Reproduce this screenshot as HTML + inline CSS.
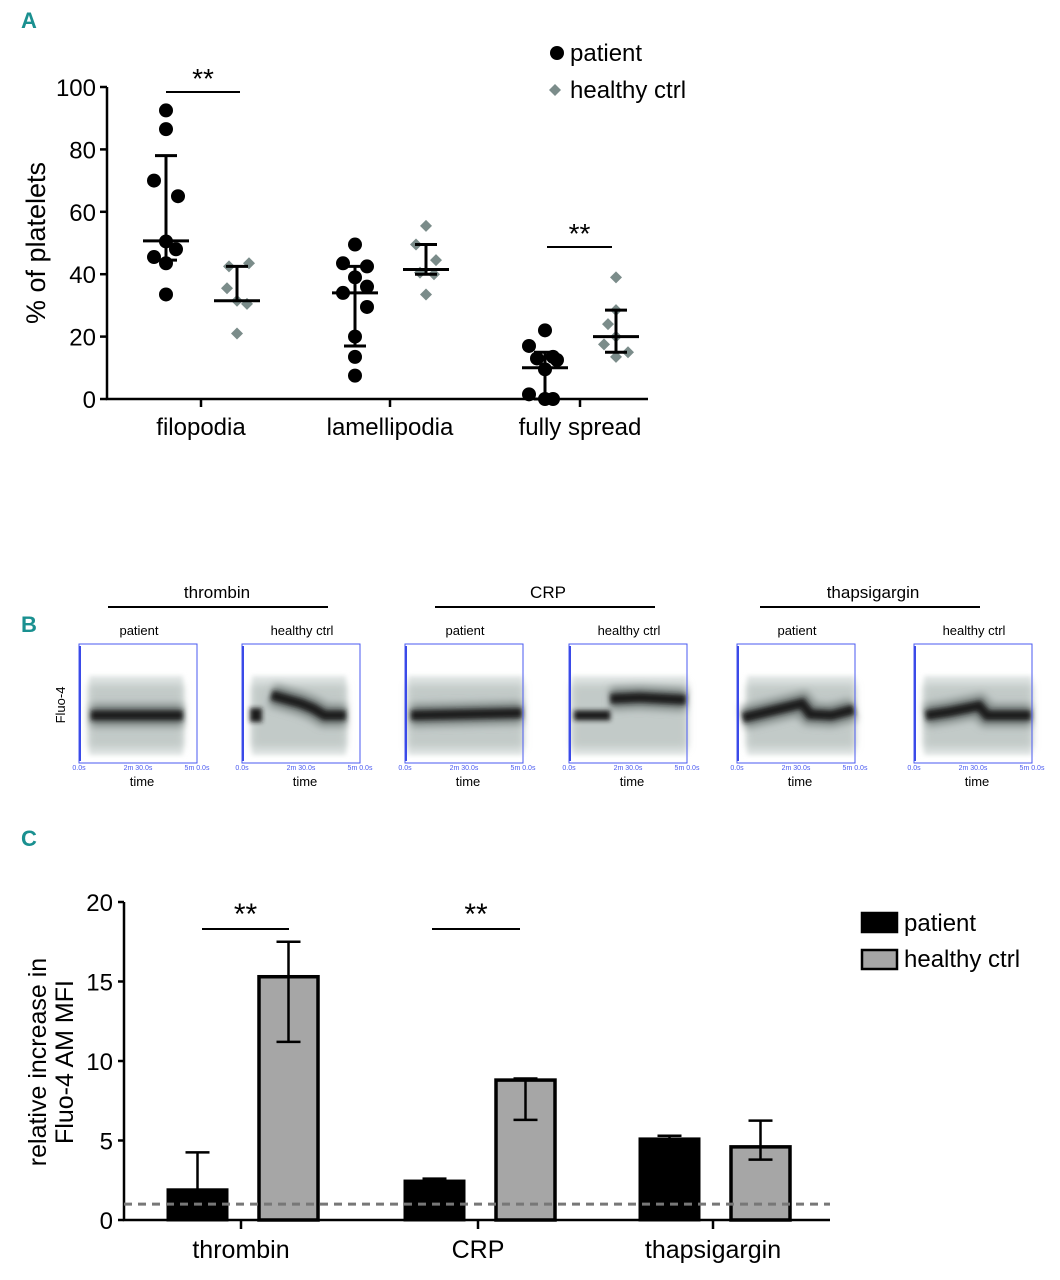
<!DOCTYPE html>
<html><head><meta charset="utf-8"><style>
body{margin:0;background:#fff;}
svg{display:block;font-family:"Liberation Sans",sans-serif;}
</style></head><body>
<svg id="fig" width="1060" height="1280" viewBox="0 0 1060 1280">
<defs><filter id="blur" filterUnits="userSpaceOnUse" x="0" y="0" width="1060" height="1280"><feGaussianBlur stdDeviation="2.5"/></filter>
<filter id="blur2" filterUnits="userSpaceOnUse" x="0" y="0" width="1060" height="1280"><feGaussianBlur stdDeviation="4"/></filter></defs>
<g id="A"></g>
<g id="B"></g>
<g id="C"></g>
</svg>
<script>
// ---------- Panel A data ----------
const aCategories=["filopodia","lamellipodia","fully spread"];
const aPatient=[[92.5,86.5,70,65,50.5,48,45.5,43.5,33.5],[49.5,43.5,42.5,39,36,34,29.5,20,13.5,7.5],[22,17,13.5,13,12.5,9.5,1.5,0,0]];
const aCtrl=[[43.5,42.5,35.5,31.5,30.5,21],[55.5,49.5,44.5,40.5,40,33.5],[39,28.5,24,20,17.5,15,13.5]];
const aPatMed=[50.7,34,10], aPatLo=[44.5,17,0], aPatHi=[78,42.5,15];
const aCtrlMed=[31.5,41.5,20], aCtrlLo=[31.5,40,15], aCtrlHi=[42.5,49.5,28.5];
const aTicks=[0,20,40,60,80,100];
// ---------- Panel C data ----------
const cCategories=["thrombin","CRP","thapsigargin"];
const cPatient=[1.9,2.45,5.1], cPatientErr=[4.25,2.6,5.3];
const cCtrl=[15.3,8.8,4.6], cCtrlHi=[17.5,8.9,6.25], cCtrlLo=[11.2,6.3,3.8];
const cTicks=[0,5,10,15,20];
const cBaseline=1;

const NS="http://www.w3.org/2000/svg";
function el(parent,tag,attrs,text){const e=document.createElementNS(NS,tag);for(const k in attrs)e.setAttribute(k,attrs[k]);if(text!==undefined)e.textContent=text;parent.appendChild(e);return e;}

// ===== Panel A =====
(function(){
const g=document.getElementById('A');
const yA=v=>399-v*3.12;
const catX=[201,390,580];
const t=el(g,'text',{x:21,y:28,'font-size':22,'font-weight':'bold',fill:'#1a9090'},'A');

const ax=el(g,'path',{d:'M107,87 V399 H648',stroke:'#000','stroke-width':2.5,fill:'none'});

aTicks.forEach(v=>{
 el(g,'line',{x1:100,x2:107,y1:yA(v),y2:yA(v),stroke:'#000','stroke-width':2.5});
 const l=el(g,'text',{x:96,y:yA(v)+9,'font-size':24,'text-anchor':'end'},v);
 
});
const yt=el(g,'text',{transform:'translate(45,243) rotate(-90)','font-size':27,'text-anchor':'middle'},'% of platelets');

const jitP=[[0,0,-12,12,0,10,-12,0,0,0],[0,-12,12,0,12,-12,12,0,0,0],[0,-16,8,-8,12,0,-16,8,0,0]];
const jitC=[[12,-8,-10,0,10,0],[0,-10,10,-6,8,0],[0,0,-8,0,-12,12,0]];
aCategories.forEach((c,i)=>{
 const cx=catX[i];
 el(g,'line',{x1:cx,x2:cx,y1:399,y2:407,stroke:'#000','stroke-width':2.5});
 const cl=el(g,'text',{x:cx,y:435,'font-size':24,'text-anchor':'middle'},c);
 
 const px=cx-35, hx=cx+36;
 aPatient[i].forEach((v,j)=>{const p=el(g,'circle',{cx:px+jitP[i][j],cy:yA(v),r:7,fill:'#000'});
  });
 aCtrl[i].forEach((v,j)=>{const s=6;const x=hx+jitC[i][j],y=yA(v);
  const d=el(g,'path',{d:`M${x},${y-s}L${x+s},${y}L${x},${y+s}L${x-s},${y}Z`,fill:'#7b8c8a'});
  });
 [[px,aPatMed,aPatLo,aPatHi],[hx,aCtrlMed,aCtrlLo,aCtrlHi]].forEach(([x,m,lo,hi])=>{
  const e=el(g,'path',{d:`M${x},${yA(lo[i])}V${yA(hi[i])}M${x-11},${yA(hi[i])}h22M${x-11},${yA(lo[i])}h22M${x-23},${yA(m[i])}h46`,stroke:'#000','stroke-width':3,fill:'none'});
  
 });
});
[[166,240,92,'filopodia'],[547,612,247,'fully spread']].forEach(([x1,x2,y])=>{
 el(g,'line',{x1,x2,y1:y,y2:y,stroke:'#000','stroke-width':2});
 const s=el(g,'text',{x:(x1+x2)/2,y:y-4,'font-size':28,'text-anchor':'middle'},'**');
 
});
const l1=el(g,'circle',{cx:557,cy:53,r:7,fill:'#000'});
const lt1=el(g,'text',{x:570,y:61,'font-size':24},'patient');
const l2=el(g,'path',{d:'M555,84L561,90L555,96L549,90Z',fill:'#7b8c8a'});
const lt2=el(g,'text',{x:570,y:98,'font-size':24},'healthy ctrl');
})();

// ===== Panel B =====
const bLefts=[79,242,405,569,737,914];
const bTitles=["patient","healthy ctrl","patient","healthy ctrl","patient","healthy ctrl"];
const bBands=[
 [[0.1,0.6],[0.25,0.6],[0.5,0.6],[0.88,0.6]],
 [[0.25,0.43],[0.5,0.5],[0.6,0.54],[0.7,0.6],[0.88,0.6]],
 [[0.05,0.6],[0.5,0.59],[0.99,0.58]],
 [[0.35,0.46],[0.6,0.45],[0.99,0.47]],
 [[0.05,0.62],[0.3,0.56],[0.55,0.5],[0.62,0.59],[0.8,0.6],[0.99,0.55]],
 [[0.1,0.6],[0.3,0.57],[0.55,0.52],[0.62,0.6],[0.99,0.6]]
];
(function(){
const g=document.getElementById('B');
const t=el(g,'text',{x:21,y:632,'font-size':22,'font-weight':'bold',fill:'#1a9090'},'B');

[["thrombin",217,108,328],["CRP",548,435,655],["thapsigargin",873,760,980]].forEach(([n,cx,x1,x2])=>{
 const tt=el(g,'text',{x:cx,y:598,'font-size':17,'text-anchor':'middle'},n);
 
 el(g,'line',{x1,x2,y1:607,y2:607,stroke:'#000','stroke-width':2});
});
const fl=el(g,'text',{transform:'translate(65,705) rotate(-90)','font-size':13,'text-anchor':'middle'},'Fluo-4');

const W=118,H=119,T=644;
bLefts.forEach((L,i)=>{
 const pg=el(g,'g',{});
 el(pg,'text',{x:L+60,y:635,'font-size':13,'text-anchor':'middle'},bTitles[i]);
 const x0=(i===2||i===3)?L+3:L+10, x1=(i<2)?L+104:L+W;
 el(pg,'rect',{x:x0,y:T+32,width:x1-x0,height:H-40,fill:'#dfe4e3',filter:'url(#blur)'});
 el(pg,'rect',{x:x0,y:T+40,width:x1-x0,height:H-55,fill:'#c2cac8',filter:'url(#blur2)'});
 const pts=bBands[i];
 let d='';pts.forEach((p,j)=>{d+=(j?'L':'M')+(L+p[0]*W)+','+(T+p[1]*H);});
 el(pg,'path',{d,stroke:'#7d8583','stroke-width':22,fill:'none',filter:'url(#blur2)'});
 el(pg,'path',{d,stroke:'#1e1e1e','stroke-width':10,fill:'none',filter:'url(#blur)'});
 if(i===1) el(pg,'rect',{x:L+8,y:T+64,width:12,height:14,fill:'#1e1e1e',filter:'url(#blur)'});
 if(i===3) el(pg,'path',{d:`M${L+5},${T+0.6*H}L${L+0.35*W},${T+0.6*H}`,stroke:'#1e1e1e','stroke-width':10,fill:'none',filter:'url(#blur)'});
 el(pg,'path',{d:`M${L},${T}H${L+W}V${T+H}H${L}Z`,stroke:'#4a5af0','stroke-width':1,fill:'none'});
 el(pg,'rect',{x:L,y:T+2,width:2,height:H-4,fill:'#3a4ae8'});
 ['0.0s','2m 30.0s','5m 0.0s'].forEach((s,k)=>{
  el(pg,'text',{x:L+k*W/2,y:T+H+7,'font-size':7,'text-anchor':'middle',fill:'#4a5af0'},s);
 });
 el(pg,'text',{x:L+W/2+4,y:786,'font-size':13,'text-anchor':'middle'},'time');
});
})();

// ===== Panel C =====
(function(){
const g=document.getElementById('C');
const yC=v=>1220-v*15.9;
const catX=[241,478,713];
const t=el(g,'text',{x:21,y:846,'font-size':22,'font-weight':'bold',fill:'#1a9090'},'C');

const ax=el(g,'path',{d:`M124,${yC(20)} V1220 H830`,stroke:'#000','stroke-width':2.5,fill:'none'});

cTicks.forEach(v=>{
 el(g,'line',{x1:118,x2:124,y1:yC(v),y2:yC(v),stroke:'#000','stroke-width':2.5});
 const l=el(g,'text',{x:113,y:yC(v)+9,'font-size':24,'text-anchor':'end'},v);
 
});
const y1=el(g,'text',{transform:'translate(46,1062) rotate(-90)','font-size':25,'text-anchor':'middle'},'relative increase in');

const y2=el(g,'text',{transform:'translate(73,1062) rotate(-90)','font-size':25,'text-anchor':'middle'},'Fluo-4 AM MFI');

cCategories.forEach((c,i)=>{
 const cx=catX[i];
 el(g,'line',{x1:cx,x2:cx,y1:1220,y2:1229,stroke:'#000','stroke-width':2.5});
 const cl=el(g,'text',{x:cx,y:1258,'font-size':25,'text-anchor':'middle'},c);
 
 const px=cx-73, hx=cx+18, bw=59;
 const eb=el(g,'path',{d:`M${px+bw/2},${yC(cPatient[i])}V${yC(cPatientErr[i])}M${px+bw/2-12},${yC(cPatientErr[i])}h24`,stroke:'#000','stroke-width':2.5,fill:'none'});
 
 const b1=el(g,'rect',{x:px,y:yC(cPatient[i]),width:bw,height:1220-yC(cPatient[i]),fill:'#000',stroke:'#000','stroke-width':3});
 
 const b2=el(g,'rect',{x:hx,y:yC(cCtrl[i]),width:bw,height:1220-yC(cCtrl[i]),fill:'#a6a6a6',stroke:'#000','stroke-width':3.5});
 
 const e2=el(g,'path',{d:`M${hx+bw/2},${yC(cCtrlLo[i])}V${yC(cCtrlHi[i])}M${hx+bw/2-12},${yC(cCtrlHi[i])}h24M${hx+bw/2-12},${yC(cCtrlLo[i])}h24`,stroke:'#000','stroke-width':2.5,fill:'none'});
 
});
const dl=el(g,'line',{x1:124,x2:830,y1:yC(cBaseline),y2:yC(cBaseline),stroke:'#777','stroke-width':3,'stroke-dasharray':'8,6'});

[[202,289],[432,520]].forEach(([x1,x2])=>{
 el(g,'line',{x1,x2,y1:929,y2:929,stroke:'#000','stroke-width':2});
 const s=el(g,'text',{x:(x1+x2)/2,y:924,'font-size':30,'text-anchor':'middle'},'**');
 
});
const lr1=el(g,'rect',{x:862,y:913,width:35,height:19,fill:'#000',stroke:'#000','stroke-width':2.5});

const lt1=el(g,'text',{x:904,y:931,'font-size':24},'patient');

const lr2=el(g,'rect',{x:862,y:950,width:35,height:19,fill:'#a6a6a6',stroke:'#000','stroke-width':2.5});

const lt2=el(g,'text',{x:904,y:967,'font-size':24},'healthy ctrl');

})();
</script>
</body></html>
